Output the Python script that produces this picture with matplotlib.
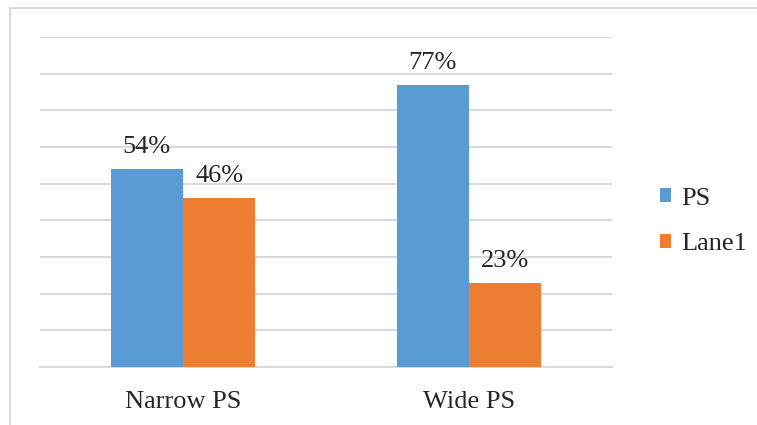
import numpy as np
import matplotlib.pyplot as plt
from matplotlib.patches import Rectangle

plt.rcParams['font.family'] = ['Liberation Serif', 'DejaVu Serif']

categories = ['Narrow PS', 'Wide PS']
ps_values = [54, 77]
lane1_values = [46, 23]
series_names = ['PS', 'Lane1']

blue = '#5B9BD5'
orange = '#ED7D31'
grid_color = '#D9D9D9'

fig = plt.figure(figsize=(7.57, 4.25), dpi=100)
ax = fig.add_axes([40 / 757, 1 - 367 / 425, 572 / 757, 330 / 425])

x = np.arange(len(categories))
w = 0.253
b1 = ax.bar(x - w / 2, ps_values, w, color=blue, label=series_names[0], zorder=3)
b2 = ax.bar(x + w / 2, lane1_values, w, color=orange, label=series_names[1], zorder=3)

for bars, vals in [(b1, ps_values), (b2, lane1_values)]:
    for bar, v in zip(bars, vals):
        ax.annotate(f'{v}%', (bar.get_x() + bar.get_width() / 2, v),
                    xytext=(0, 8), textcoords='offset points',
                    ha='center', va='bottom', fontsize=19, color='#262626')

ax.set_xlim(-0.5, 1.5)
ax.set_ylim(0, 90)
ax.set_yticks(np.arange(0, 91, 10))
ax.yaxis.grid(True, color=grid_color, linewidth=1.5, zorder=0)
ax.tick_params(axis='y', left=False, labelleft=False)
ax.tick_params(axis='x', length=0, pad=17, labelsize=19, labelcolor='#262626')
ax.set_xticks(x)
ax.set_xticklabels(categories)
for s in ['top', 'right', 'left']:
    ax.spines[s].set_visible(False)
ax.spines['bottom'].set_color(grid_color)
ax.spines['bottom'].set_linewidth(1.5)

leg = fig.legend(loc='upper left', bbox_to_anchor=(636 / 757, 1 - 164 / 425),
                 frameon=False, fontsize=19, handlelength=0.42, handleheight=0.42,
                 handletextpad=0.4, labelspacing=0.9)
for t in leg.get_texts():
    t.set_color('#262626')

# outer chart frame
fig.patches.append(Rectangle((10 / 757, -0.1), 1.2, 1 - 8 / 425 + 0.1,
                             transform=fig.transFigure, fill=False,
                             edgecolor=grid_color, linewidth=1.5))

fig.savefig('out.png', dpi=100)
